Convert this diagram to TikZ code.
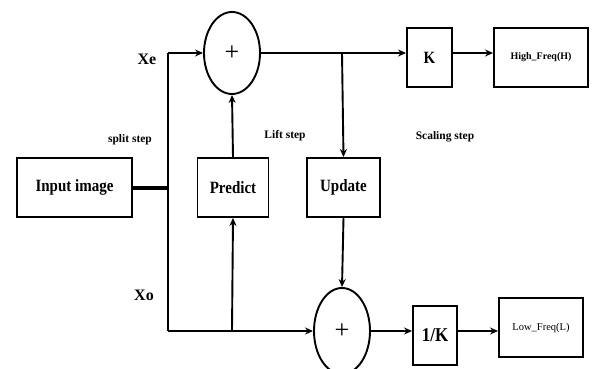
\documentclass[tikz,border=0pt]{standalone}
\usepackage{fontspec}
\setmainfont{Liberation Serif}
\usetikzlibrary{arrows.meta,shapes.geometric}
\begin{document}
\begin{tikzpicture}[x=1pt,y=-1pt,
  box/.style={draw,line width=1.9pt,rectangle,inner sep=0pt,font=\bfseries\fontsize{15}{15}\selectfont},
  sum/.style={draw,line width=1.9pt,ellipse,inner sep=0pt,minimum width=56pt,font=\fontsize{26}{26}\selectfont},
  conn/.style={line width=1.9pt},
  arr/.style={conn,-{Stealth[length=8pt,width=7pt]}},
  lbl/.style={font=\bfseries\fontsize{16}{16}\selectfont},
  steplbl/.style={font=\bfseries\fontsize{11.5}{12}\selectfont}]
\clip (0,0) rectangle (592,369);
\fill[white] (0,0) rectangle (592,369);
% boxes
\node[box,minimum width=115pt,minimum height=59pt] (inp) at (74.5,187.5) {\scalebox{1}[1.15]{Input image}};
\node[box,minimum width=71pt,minimum height=59pt] (pred) at (233,187.5) {\scalebox{1}[1.15]{Predict}};
\node[box,minimum width=73pt,minimum height=59pt] (upd) at (343.5,187.5) {\scalebox{1}[1.15]{Update}};
\node[box,minimum width=45pt,minimum height=59pt] (K) at (429.5,57.5) {\scalebox{1}[1.15]{K}};
\node[box,minimum width=94pt,minimum height=59pt,font=\bfseries\fontsize{10}{10}\selectfont] (H) at (541,57.5) {High\_Freq(H)};
\node[box,minimum width=44pt,minimum height=59pt,font=\bfseries\fontsize{17}{17}\selectfont] (K2) at (435,335.5) {\scalebox{1}[1.15]{1/K}};
\node[box,minimum width=84pt,minimum height=59pt,font=\fontsize{10.5}{10.5}\selectfont] (L) at (541,327.5) {Low\_Freq(L)};
% sums
\node[sum,minimum height=82pt] (e1) at (232,53) {+};
\node[sum,minimum height=86pt] (e2) at (342,331) {+};
% coordinates
\coordinate (xe) at (168,53);
\coordinate (xo) at (168,331);
\coordinate (sp) at (168,188);
\coordinate (br) at (342,53);
\coordinate (pb) at (232,331);
% connectors
\draw[line width=3.2pt] (inp.east |- sp) -- (sp);
\draw[conn] (xe) -- (xo);
\draw[arr] (xe) -- (e1.west);
\draw[arr] (e1.east) -- (K.west |- e1);
\draw[arr] (K.east |- e1) -- (H.west |- e1);
\draw[arr] (br) -- (upd.north);
\draw[arr] (pred.north) -- (e1.south);
\draw[arr] (xo) -- (e2.west);
\draw[arr] (pb) -- (pred.south);
\draw[arr] (upd.south) -- (e2.north);
\draw[arr] (e2.east) -- (K2.west |- e2);
\draw[arr] (K2.east |- e2) -- (L.west |- e2);
% labels
\node[lbl] (lxe) at (147,59) {Xe};
\node[lbl] (lxo) at (144,295) {Xo};
\node[steplbl] (ls) at (130,140) {split step};
\node[steplbl] (ll) at (285,136) {Lift step};
\node[steplbl] (lsc) at (445,137) {Scaling step};
\end{tikzpicture}
\end{document}
